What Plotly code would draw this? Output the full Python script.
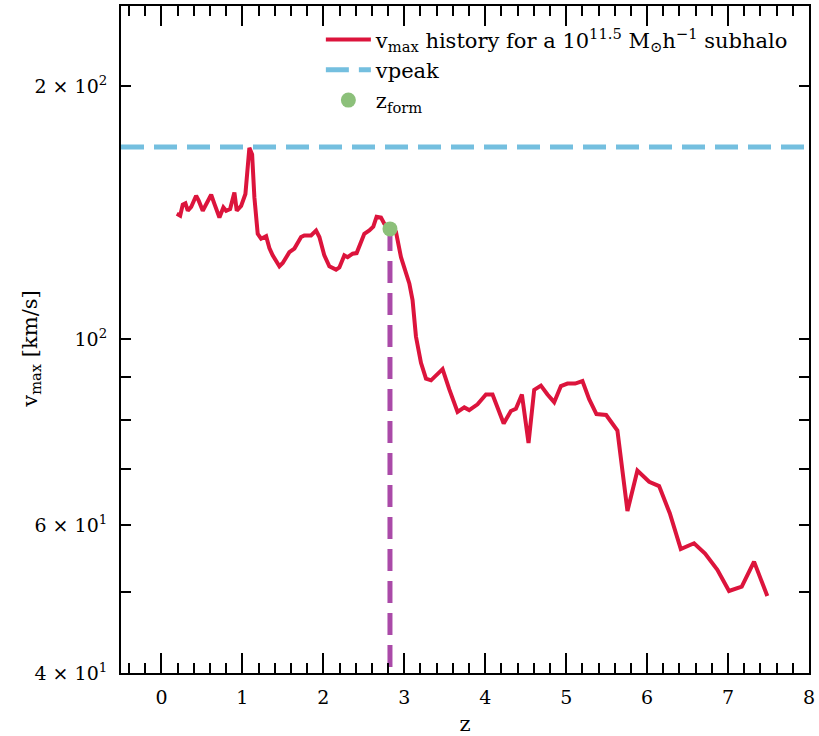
import math
import plotly.graph_objects as go

# redshift z and vmax [km/s]
z = [0.189, 0.231, 0.263, 0.296, 0.325, 0.367, 0.428, 0.460, 0.510, 0.559,
     0.614, 0.654, 0.716, 0.765, 0.799, 0.848, 0.901, 0.930, 0.984, 1.037,
     1.086, 1.120, 1.148, 1.189, 1.231, 1.293, 1.333, 1.374, 1.457, 1.498,
     1.580, 1.642, 1.725, 1.765, 1.848, 1.910, 1.951, 2.012, 2.074, 2.157,
     2.198, 2.259, 2.300, 2.362, 2.411, 2.506, 2.568, 2.617, 2.658, 2.712,
     2.753, 2.823, 2.897, 2.959, 3.062, 3.102, 3.144, 3.206, 3.268, 3.330,
     3.473, 3.556, 3.658, 3.741, 3.802, 3.905, 4.009, 4.090, 4.228, 4.317,
     4.379, 4.453, 4.535, 4.605, 4.688, 4.769, 4.852, 4.935, 5.016, 5.111,
     5.201, 5.284, 5.374, 5.494, 5.633, 5.757, 5.880, 6.025, 6.148, 6.280,
     6.416, 6.580, 6.716, 6.868, 7.012, 7.169, 7.321, 7.485]
vmax = [141.0, 140.3, 144.6, 145.1, 142.2, 143.7, 148.2, 146.2, 142.2, 144.9,
        148.6, 144.9, 139.6, 143.5, 142.2, 142.9, 149.5, 142.2, 144.1, 148.9,
        169.0, 166.0, 147.5, 133.5, 131.7, 132.6, 128.4, 125.8, 122.1, 123.2,
        126.9, 128.2, 132.3, 132.9, 132.9, 134.7, 132.3, 125.8, 122.1, 121.0,
        121.7, 125.8, 125.2, 126.4, 126.6, 133.5, 134.7, 136.1, 139.9, 139.6,
        137.2, 135.3, 134.2, 125.2, 116.5, 111.3, 100.7, 93.7, 89.7, 89.3,
        92.1, 87.1, 81.9, 82.9, 82.3, 83.6, 85.9, 85.9, 79.3, 82.1,
        82.6, 85.9, 75.2, 87.0, 88.0, 85.9, 84.1, 87.9, 88.5, 88.5,
        89.1, 84.8, 81.4, 81.2, 77.8, 62.4, 69.7, 67.6, 66.8, 62.0,
        56.2, 57.1, 55.5, 53.1, 50.1, 50.7, 54.3, 49.4]

vpeak = 169.4
z_form = 2.823
v_form = 135.3

x_range = [-0.5, 8]
y_range = [40, 249.4]

y_tickvals = [40, 50, 60, 70, 80, 90, 100, 200]
y_ticktext = ["4 × 10<sup>1</sup>", "", "6 × 10<sup>1</sup>", "", "", "",
              "10<sup>2</sup>", "2 × 10<sup>2</sup>"]
x_tickvals = [0, 1, 2, 3, 4, 5, 6, 7, 8]

FONT = "'DejaVu Serif', serif"

fig = go.Figure()

fig.add_trace(go.Scatter(
    x=z, y=vmax, mode="lines",
    line=dict(color="#DC143C", width=4),
    name="v<sub>max</sub> history for a 10<sup>11.5</sup> M<sub>⊙</sub>h<sup>−1</sup> subhalo",
))
fig.add_trace(go.Scatter(
    x=x_range, y=[vpeak, vpeak], mode="lines",
    line=dict(color="#74BFDF", width=5, dash="23px,10px"),
    name="vpeak",
))
fig.add_trace(go.Scatter(
    x=[z_form, z_form], y=[v_form, y_range[0]], mode="lines",
    line=dict(color="#AA4AA8", width=5, dash="22px,10px"),
    showlegend=False, hoverinfo="skip",
))
fig.add_trace(go.Scatter(
    x=[z_form], y=[v_form], mode="markers",
    marker=dict(color="#8CC07A", size=15),
    name="z<sub>form</sub>",
))

fig.update_layout(
    width=819, height=736,
    margin=dict(l=121, r=9, t=4, b=59),
    paper_bgcolor="white", plot_bgcolor="white",
    font=dict(family=FONT, size=19, color="black"),
    showlegend=True,
    legend=dict(x=0.978, xanchor="right", y=0.98, yanchor="top",
                bgcolor="rgba(255,255,255,0)", font=dict(family=FONT, size=21),
                tracegroupgap=0, itemwidth=45),
    annotations=[dict(
        text="v<sub>max</sub> [km/s]", textangle=-90,
        xref="paper", yref="paper", x=-0.132, y=0.485,
        xanchor="center", yanchor="middle", showarrow=False,
        font=dict(family=FONT, size=21, color="black"),
    )],
)

fig.update_xaxes(
    range=x_range, tickvals=x_tickvals,
    ticks="inside", ticklen=20, tickwidth=1.5, tickcolor="black",
    minor=dict(dtick=0.2, tick0=0, ticks="inside", ticklen=10, tickwidth=1.5, tickcolor="black"),
    showline=True, linecolor="black", linewidth=2, mirror="allticks",
    showgrid=False, zeroline=False,
    tickfont=dict(family=FONT, size=19),
    title=dict(text="z", font=dict(family=FONT, size=21), standoff=10),
    ticklabelstandoff=6,
)
fig.update_yaxes(
    type="log", range=[math.log10(y_range[0]), math.log10(y_range[1])],
    tickvals=y_tickvals, ticktext=y_ticktext,
    ticks="inside", ticklen=10, tickwidth=1.5, tickcolor="black",
    showline=True, linecolor="black", linewidth=2, mirror="allticks",
    showgrid=False, zeroline=False,
    tickfont=dict(family=FONT, size=19),
    ticklabelstandoff=8,
)

fig.write_html("out.html")
